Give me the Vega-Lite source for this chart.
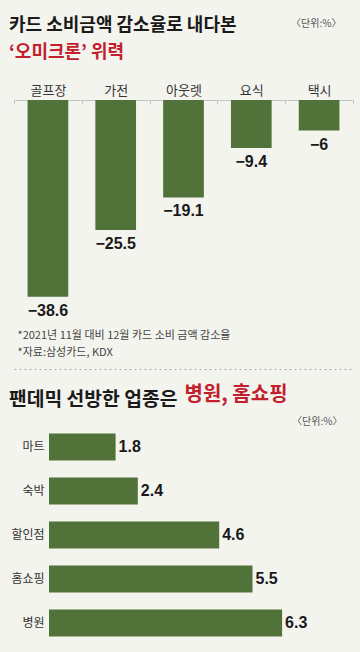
{
  "$schema": "https://vega.github.io/schema/vega-lite/v6.json",
  "background": "#f4f4ef",
  "autosize": {"type": "none"},
  "padding": {"left": 14, "top": 100, "right": 346, "bottom": 552},
  "bounds": "flush",
  "spacing": 56,
  "config": {
    "view": {"stroke": null},
    "axis": {"grid": false, "minExtent": 0}
  },
  "vconcat": [
    {
      "width": 339,
      "height": 269,
      "title": {
        "text": "카드 소비금액 감소율로 내다본",
        "subtitle": "‘오미크론’ 위력",
        "anchor": "start",
        "frame": "group",
        "dx": -5,
        "offset": -44,
        "font": "Noto Sans CJK KR",
        "fontSize": 18,
        "fontWeight": "bold",
        "color": "#1a1a1a",
        "subtitleFont": "Noto Sans CJK KR",
        "subtitleFontSize": 18,
        "subtitleFontWeight": "bold",
        "subtitleColor": "#c3202e",
        "subtitlePadding": 9
      },
      "data": {"values": [
        {"업종": "골프장", "value": -38.6},
        {"업종": "가전", "value": -25.5},
        {"업종": "아웃렛", "value": -19.1},
        {"업종": "요식", "value": -9.4},
        {"업종": "택시", "value": -6}
      ]},
      "encoding": {
        "x": {
          "field": "업종", "type": "nominal", "sort": null,
          "scale": {"paddingInner": 0, "paddingOuter": 0},
          "axis": {
            "orient": "top",
            "labelAngle": 0,
            "labelFont": "Noto Sans CJK KR",
            "labelFontSize": 13,
            "labelColor": "#333333",
            "labelPadding": 7,
            "tickBand": "extent",
            "tickSize": -4,
            "tickColor": "#c4c4c4",
            "domainColor": "#c4c4c4",
            "title": "〈단위:%〉",
            "titleFont": "Noto Sans CJK KR",
            "titleFontSize": 10,
            "titleFontWeight": "normal",
            "titleColor": "#555555",
            "titleAlign": "right",
            "titleBaseline": "middle",
            "titleX": 327,
            "titleY": -77
          }
        },
        "y": {
          "field": "value", "type": "quantitative",
          "scale": {"domain": [-52.745, 0], "nice": false},
          "axis": {
            "labels": false, "ticks": false, "domain": false,
            "grid": true,
            "values": [-52.745],
            "gridColor": "#aaaaaa",
            "gridDash": [2, 3],
            "gridWidth": 1,
            "title": ["*2021년 11월 대비 12월 카드 소비 금액 감소율", "*자료:삼성카드, KDX"],
            "titleAngle": 0,
            "titleAlign": "left",
            "titleBaseline": "top",
            "titleX": 3,
            "titleY": 229,
            "titleLineHeight": 17,
            "titleFont": "Noto Sans CJK KR",
            "titleFontSize": 11,
            "titleFontWeight": "normal",
            "titleColor": "#444444"
          }
        }
      },
      "layer": [
        {"mark": {"type": "bar", "width": {"band": 0.6}, "color": "#51733a"}},
        {
          "mark": {"type": "text", "baseline": "top", "dy": 6, "font": "Liberation Sans", "fontWeight": "bold", "fontSize": 16, "color": "#1a1a1a"},
          "encoding": {"text": {"field": "value", "type": "quantitative", "format": "~g"}}
        }
      ]
    },
    {
      "width": 332,
      "height": 220,
      "title": {
        "text": "팬데믹 선방한 업종은",
        "anchor": "start",
        "frame": "group",
        "dx": -5,
        "offset": -41.5,
        "font": "Noto Sans CJK KR",
        "fontSize": 19.3,
        "fontWeight": "bold",
        "color": "#1a1a1a"
      },
      "data": {"values": [
        {"업종": "마트", "value": 1.8},
        {"업종": "숙박", "value": 2.4},
        {"업종": "할인점", "value": 4.6},
        {"업종": "홈쇼핑", "value": 5.5},
        {"업종": "병원", "value": 6.3}
      ]},
      "encoding": {
        "y": {
          "field": "업종", "type": "nominal", "sort": null,
          "scale": {"paddingInner": 0.386, "paddingOuter": 0.193},
          "axis": {
            "offset": -35,
            "domain": false, "ticks": false,
            "labelPadding": 5,
            "labelFont": "Noto Sans CJK KR",
            "labelFontSize": 12,
            "labelColor": "#333333",
            "title": "〈단위:%〉",
            "titleAngle": 0,
            "titleAlign": "right",
            "titleBaseline": "middle",
            "titleX": 293,
            "titleY": -4,
            "titleFont": "Noto Sans CJK KR",
            "titleFontSize": 10,
            "titleFontWeight": "normal",
            "titleColor": "#555555"
          }
        },
        "x": {
          "field": "value", "type": "quantitative",
          "scale": {"domain": [-0.946, 8.027], "nice": false, "zero": false},
          "axis": {
            "orient": "top",
            "offset": 56,
            "labels": false, "ticks": false,
            "domain": false,
            "title": "병원, 홈쇼핑",
            "titleFont": "Noto Sans CJK KR",
            "titleFontSize": 20,
            "titleFontWeight": "bold",
            "titleColor": "#c3202e",
            "titleAlign": "left",
            "titleBaseline": "middle",
            "titleX": 170,
            "titleY": 25
          }
        }
      },
      "layer": [
        {"mark": {"type": "bar", "color": "#51733a"}},
        {
          "mark": {"type": "text", "align": "left", "baseline": "middle", "dx": 3, "font": "Liberation Sans", "fontWeight": "bold", "fontSize": 16, "color": "#1a1a1a"},
          "encoding": {"text": {"field": "value", "type": "quantitative", "format": "~g"}}
        }
      ]
    }
  ]
}
